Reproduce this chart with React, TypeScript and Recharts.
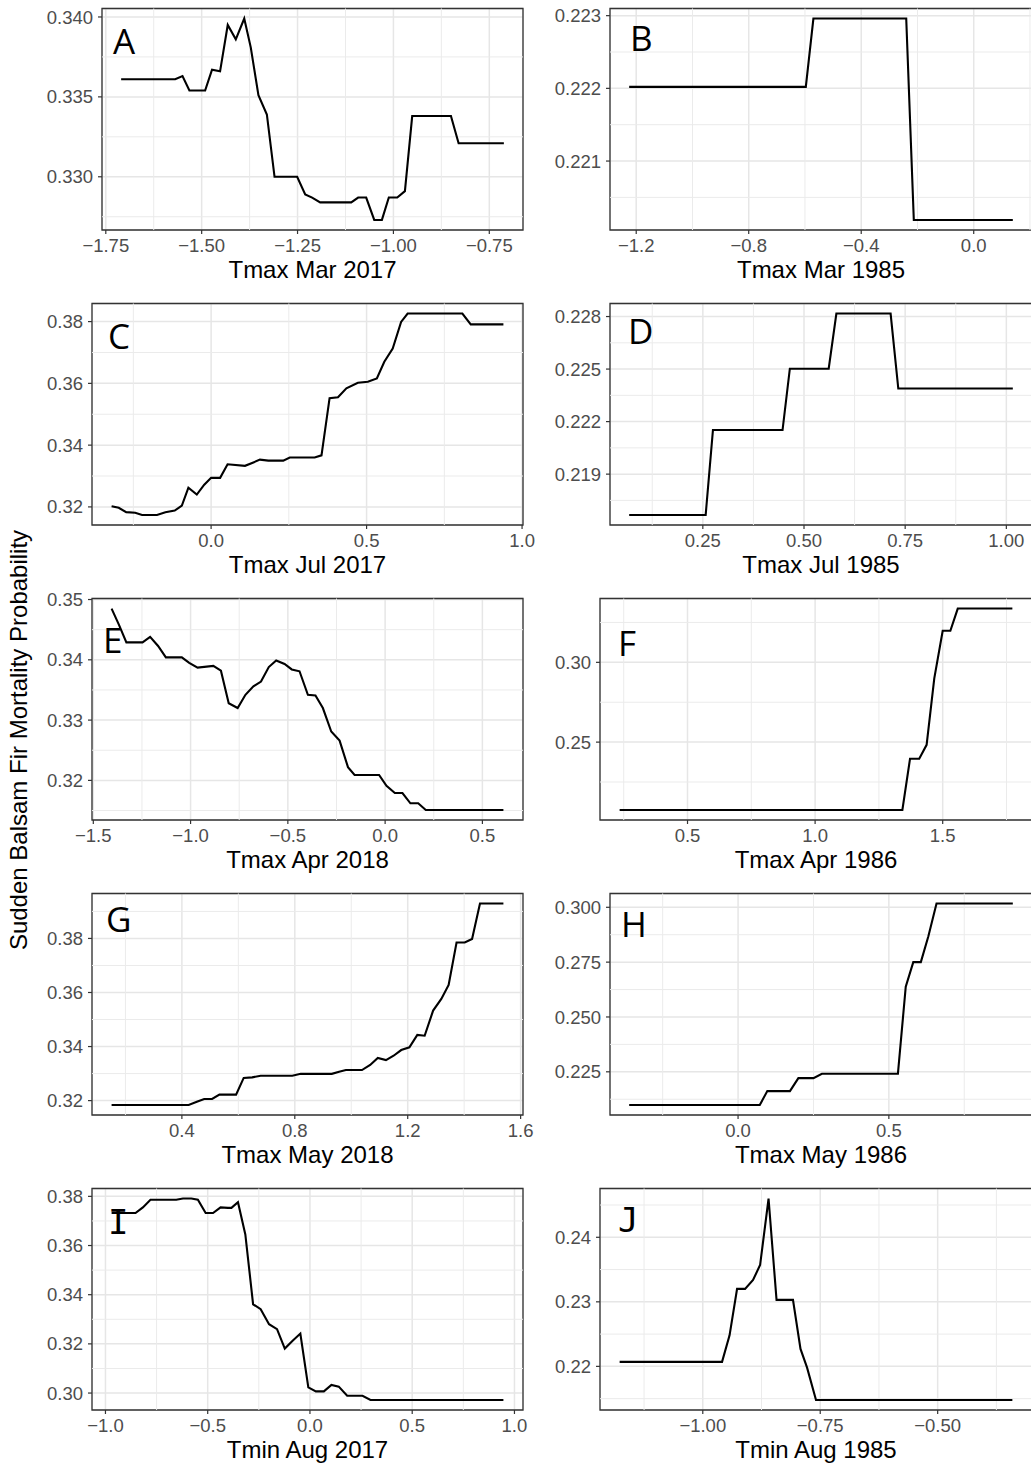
import React from 'react';
import { LineChart, Line, XAxis, YAxis, CartesianGrid, ReferenceLine, ReferenceArea, Label } from 'recharts';

// partial dependence curves, one pair of arrays per panel
const aX = [-1.71, -1.569, -1.55, -1.532, -1.491, -1.473, -1.452, -1.432, -1.411, -1.389, -1.372, -1.352, -1.33, -1.31, -1.251, -1.23, -1.212, -1.191, -1.11, -1.092, -1.071, -1.05, -1.03, -1.012, -0.99, -0.97, -0.951, -0.85, -0.83, -0.812, -0.712];
const aY = [0.3361, 0.3361, 0.3363, 0.3354, 0.3354, 0.3367, 0.3366, 0.3395, 0.3386, 0.3399, 0.3381, 0.3351, 0.3339, 0.33, 0.33, 0.3289, 0.3287, 0.3284, 0.3284, 0.3287, 0.3287, 0.3273, 0.3273, 0.3287, 0.3287, 0.3291, 0.3338, 0.3338, 0.3321, 0.3321, 0.3321];

const bX = [-1.225, -0.597, -0.57, -0.24, -0.213, 0.139];
const bY = [0.22202, 0.22202, 0.22296, 0.22296, 0.22019, 0.22019];

const cX = [-0.32, -0.297, -0.273, -0.244, -0.222, -0.174, -0.147, -0.117, -0.094, -0.073, -0.046, -0.022, 0.0, 0.029, 0.053, 0.109, 0.136, 0.157, 0.184, 0.232, 0.253, 0.333, 0.355, 0.381, 0.408, 0.435, 0.472, 0.504, 0.533, 0.557, 0.584, 0.611, 0.632, 0.808, 0.835, 0.94];
const cY = [0.3202, 0.3197, 0.3183, 0.3181, 0.3174, 0.3174, 0.3183, 0.3188, 0.3204, 0.3262, 0.324, 0.3272, 0.3294, 0.3294, 0.3338, 0.3333, 0.3344, 0.3353, 0.335, 0.335, 0.336, 0.336, 0.3367, 0.3552, 0.3555, 0.3584, 0.3602, 0.3605, 0.3616, 0.367, 0.3713, 0.3799, 0.3826, 0.3826, 0.3791, 0.3791];

const dX = [0.068, 0.257, 0.275, 0.447, 0.465, 0.561, 0.58, 0.714, 0.733, 1.016];
const dY = [0.21667, 0.21667, 0.22152, 0.22152, 0.22502, 0.22502, 0.22817, 0.22817, 0.22389, 0.22389];

const eX = [-1.406, -1.368, -1.33, -1.247, -1.208, -1.167, -1.127, -1.045, -1.007, -0.964, -0.883, -0.844, -0.804, -0.758, -0.718, -0.677, -0.638, -0.598, -0.56, -0.517, -0.48, -0.44, -0.397, -0.358, -0.32, -0.277, -0.234, -0.191, -0.157, -0.031, 0.007, 0.05, 0.089, 0.13, 0.17, 0.209, 0.608];
const eY = [0.3485, 0.3458, 0.3429, 0.3429, 0.3438, 0.3423, 0.3404, 0.3404, 0.3395, 0.3387, 0.339, 0.3382, 0.3328, 0.332, 0.3342, 0.3356, 0.3364, 0.3388, 0.3399, 0.3393, 0.3384, 0.3381, 0.3342, 0.3341, 0.332, 0.3281, 0.3266, 0.3222, 0.3209, 0.3209, 0.3191, 0.3179, 0.3179, 0.3162, 0.3162, 0.3151, 0.3151];

const fX = [0.234, 1.342, 1.372, 1.408, 1.437, 1.467, 1.5, 1.53, 1.559, 1.773];
const fY = [0.2075, 0.2075, 0.2396, 0.2396, 0.2483, 0.29, 0.3198, 0.3198, 0.3337, 0.3337];

const gX = [0.151, 0.424, 0.453, 0.479, 0.507, 0.533, 0.592, 0.619, 0.649, 0.679, 0.791, 0.821, 0.931, 0.957, 0.981, 1.038, 1.067, 1.094, 1.123, 1.15, 1.177, 1.206, 1.234, 1.26, 1.29, 1.319, 1.345, 1.373, 1.402, 1.428, 1.456, 1.539];
const gY = [0.3184, 0.3184, 0.3196, 0.3206, 0.3206, 0.3222, 0.3222, 0.3284, 0.3286, 0.3292, 0.3292, 0.3299, 0.3299, 0.3307, 0.3313, 0.3313, 0.3332, 0.3358, 0.335, 0.3366, 0.3387, 0.3397, 0.3443, 0.344, 0.3533, 0.3576, 0.3628, 0.3785, 0.3785, 0.3798, 0.3929, 0.3929];

const hX = [-0.361, 0.072, 0.097, 0.172, 0.2, 0.25, 0.278, 0.53, 0.556, 0.581, 0.606, 0.631, 0.658, 0.911];
const hY = [0.2099, 0.2099, 0.2162, 0.2162, 0.2221, 0.2221, 0.2241, 0.2241, 0.2638, 0.275, 0.275, 0.2868, 0.3017, 0.3017];

const iX = [-0.97, -0.853, -0.817, -0.78, -0.654, -0.621, -0.58, -0.548, -0.51, -0.474, -0.437, -0.401, -0.384, -0.352, -0.316, -0.278, -0.241, -0.2, -0.161, -0.123, -0.086, -0.047, -0.008, 0.029, 0.068, 0.105, 0.141, 0.182, 0.257, 0.296, 0.946];
const iY = [0.3732, 0.3732, 0.3755, 0.3786, 0.3786, 0.3791, 0.3791, 0.3786, 0.3732, 0.3732, 0.3755, 0.3753, 0.3753, 0.3776, 0.3645, 0.3361, 0.3341, 0.328, 0.326, 0.3181, 0.3212, 0.3242, 0.3023, 0.3007, 0.3007, 0.3033, 0.3026, 0.2989, 0.2989, 0.2972, 0.2972];

const jX = [-1.177, -0.959, -0.943, -0.927, -0.91, -0.893, -0.878, -0.86, -0.843, -0.808, -0.792, -0.778, -0.759, -0.341];
const jY = [0.2207, 0.2207, 0.2248, 0.232, 0.232, 0.2334, 0.2357, 0.246, 0.2303, 0.2303, 0.2227, 0.2198, 0.2148, 0.2148];

// axis breaks
const aXTicks = [-1.75, -1.5, -1.25, -1.0, -0.75];
const aYTicks = [0.33, 0.335, 0.34];
const bXTicks = [-1.2, -0.8, -0.4, 0.0];
const bYTicks = [0.221, 0.222, 0.223];
const cXTicks = [0.0, 0.5, 1.0];
const cYTicks = [0.32, 0.34, 0.36, 0.38];
const dXTicks = [0.25, 0.5, 0.75, 1.0];
const dYTicks = [0.219, 0.222, 0.225, 0.228];
const eXTicks = [-1.5, -1.0, -0.5, 0.0, 0.5];
const eYTicks = [0.32, 0.33, 0.34, 0.35];
const fXTicks = [0.5, 1.0, 1.5];
const fYTicks = [0.25, 0.3];
const gXTicks = [0.4, 0.8, 1.2, 1.6];
const gYTicks = [0.32, 0.34, 0.36, 0.38];
const hXTicks = [0.0, 0.5];
const hYTicks = [0.225, 0.25, 0.275, 0.3];
const iXTicks = [-1.0, -0.5, 0.0, 0.5, 1.0];
const iYTicks = [0.3, 0.32, 0.34, 0.36, 0.38];
const jXTicks = [-1.0, -0.75, -0.5];
const jYTicks = [0.22, 0.23, 0.24];

const SANS = '"Liberation Sans", Arial, sans-serif';
const ROW_H = 295;
const COL_LEFT = [40, 540];
// left column gets extra room on the right so edge tick labels stay whole
const COL_W = [498, 492];
const COL_RIGHT_PAD = [15, 0];
const PLOT_TOP = 8.5;
const XAXIS_H = 65;

type PanelSpec = {
  letter: string;
  title: string;
  xs: number[];
  ys: number[];
  xTicks: number[];
  yTicks: number[];
  xDigits: number;
  yDigits: number;
  col: number;
  row: number;
  axisW: number;
  dx: number;
  dy: number;
  mono?: boolean;
};

const panels: PanelSpec[] = [
  { letter: 'A', title: 'Tmax Mar 2017', xs: aX, ys: aY, xTicks: aXTicks, yTicks: aYTicks, xDigits: 2, yDigits: 3, col: 0, row: 0, axisW: 62, dx: 11, dy: 45 },
  { letter: 'B', title: 'Tmax Mar 1985', xs: bX, ys: bY, xTicks: bXTicks, yTicks: bYTicks, xDigits: 1, yDigits: 3, col: 1, row: 0, axisW: 70, dx: 20, dy: 42 },
  { letter: 'C', title: 'Tmax Jul 2017', xs: cX, ys: cY, xTicks: cXTicks, yTicks: cYTicks, xDigits: 1, yDigits: 2, col: 0, row: 1, axisW: 52, dx: 16, dy: 45 },
  { letter: 'D', title: 'Tmax Jul 1985', xs: dX, ys: dY, xTicks: dXTicks, yTicks: dYTicks, xDigits: 2, yDigits: 3, col: 1, row: 1, axisW: 70, dx: 18, dy: 40 },
  { letter: 'E', title: 'Tmax Apr 2018', xs: eX, ys: eY, xTicks: eXTicks, yTicks: eYTicks, xDigits: 1, yDigits: 2, col: 0, row: 2, axisW: 52, dx: 11, dy: 54 },
  { letter: 'F', title: 'Tmax Apr 1986', xs: fX, ys: fY, xTicks: fXTicks, yTicks: fYTicks, xDigits: 1, yDigits: 2, col: 1, row: 2, axisW: 60, dx: 18, dy: 57 },
  { letter: 'G', title: 'Tmax May 2018', xs: gX, ys: gY, xTicks: gXTicks, yTicks: gYTicks, xDigits: 1, yDigits: 2, col: 0, row: 3, axisW: 52, dx: 14, dy: 38 },
  { letter: 'H', title: 'Tmax May 1986', xs: hX, ys: hY, xTicks: hXTicks, yTicks: hYTicks, xDigits: 1, yDigits: 3, col: 1, row: 3, axisW: 70, dx: 11, dy: 43 },
  { letter: 'I', title: 'Tmin Aug 2017', xs: iX, ys: iY, xTicks: iXTicks, yTicks: iYTicks, xDigits: 1, yDigits: 2, col: 0, row: 4, axisW: 52, dx: 16, dy: 45, mono: true },
  { letter: 'J', title: 'Tmin Aug 1985', xs: jX, ys: jY, xTicks: jXTicks, yTicks: jYTicks, xDigits: 2, yDigits: 2, col: 1, row: 4, axisW: 60, dx: 18, dy: 43, mono: true },
];

// ggplot-style 5% padding around the data range
const expand = (vals: number[]): [number, number] => {
  const lo = Math.min(...vals);
  const hi = Math.max(...vals);
  const pad = (hi - lo) * 0.05;
  return [lo - pad, hi + pad];
};

// minor breaks halfway between the major ones
const minorBreaks = (ticks: number[], domain: [number, number]) => {
  const step = ticks[1] - ticks[0];
  const out: number[] = [];
  for (let v = ticks[0] - 2.5 * step; v <= domain[1]; v += step) {
    if (v >= domain[0]) out.push(v);
  }
  return out;
};

const fmt = (digits: number) => (v: number) => v.toFixed(digits).replace('-', '\u2212');

const tickStyle = { fill: '#4d4d4d', fontSize: 18.5, fontFamily: SANS };
const tickLine = { stroke: '#333333', strokeWidth: 1.2 };

const Panel: React.FC<{ p: PanelSpec }> = ({ p }) => {
  const data = p.xs.map((x, i) => ({ x, y: p.ys[i] }));
  const xDom = expand(p.xs);
  const yDom = expand(p.ys);

  return (
    <div style={{ position: 'absolute', left: COL_LEFT[p.col], top: p.row * ROW_H }}>
      <LineChart width={COL_W[p.col]} height={ROW_H} data={data} margin={{ top: PLOT_TOP, right: COL_RIGHT_PAD[p.col], bottom: 0, left: 0 }}>
        <CartesianGrid stroke="#e6e6e6" strokeWidth={1.5} />
        {minorBreaks(p.xTicks, xDom).map((v) => (
          <ReferenceLine key={'mx' + v} x={v} stroke="#ebebeb" strokeWidth={1} />
        ))}
        {minorBreaks(p.yTicks, yDom).map((v) => (
          <ReferenceLine key={'my' + v} y={v} stroke="#ebebeb" strokeWidth={1} />
        ))}
        <XAxis
          dataKey="x"
          type="number"
          domain={xDom}
          allowDataOverflow
          ticks={p.xTicks}
          interval={0}
          tickFormatter={fmt(p.xDigits)}
          tick={tickStyle}
          tickLine={tickLine}
          tickSize={4}
          tickMargin={5}
          axisLine={false}
          height={XAXIS_H}
        >
          <Label value={p.title} position="insideBottom" offset={17} fill="#000000" fontSize={24} fontFamily={SANS} />
        </XAxis>
        <YAxis
          type="number"
          domain={yDom}
          allowDataOverflow
          ticks={p.yTicks}
          interval={0}
          tickFormatter={fmt(p.yDigits)}
          tick={tickStyle}
          tickLine={tickLine}
          tickSize={4}
          tickMargin={5}
          axisLine={false}
          width={p.axisW}
        />
        <Line type="linear" dataKey="y" stroke="#000000" strokeWidth={2.1} dot={false} isAnimationActive={false} />
        <ReferenceArea x1={xDom[0]} x2={xDom[1]} y1={yDom[0]} y2={yDom[1]} fill="none" stroke="#333333" strokeWidth={1.3} ifOverflow="visible" />
      </LineChart>
    </div>
  );
};

export default function App() {
  return (
    <div style={{ position: 'absolute', left: 0, top: 0, width: 1031, height: 1466, overflow: 'hidden', background: '#ffffff' }}>
      {panels.map((p) => (
        <Panel key={p.letter} p={p} />
      ))}
      <svg width={1031} height={1466} style={{ position: 'absolute', left: 0, top: 0, pointerEvents: 'none' }}>
        <text transform="rotate(-90)" x={-740} y={27} textAnchor="middle" fontSize={24} fontFamily={SANS} fill="#000000">
          Sudden Balsam Fir Mortality Probability
        </text>
        {panels.map((p) => (
          <text
            key={p.letter}
            x={COL_LEFT[p.col] + p.axisW + p.dx}
            y={p.row * ROW_H + PLOT_TOP + p.dy}
            fontSize={p.mono ? 34 : 35}
            fontFamily={p.mono ? '"DejaVu Sans Mono", monospace' : '"Open Sans", sans-serif'}
            fill="#000000"
          >
            {p.letter}
          </text>
        ))}
      </svg>
    </div>
  );
}
